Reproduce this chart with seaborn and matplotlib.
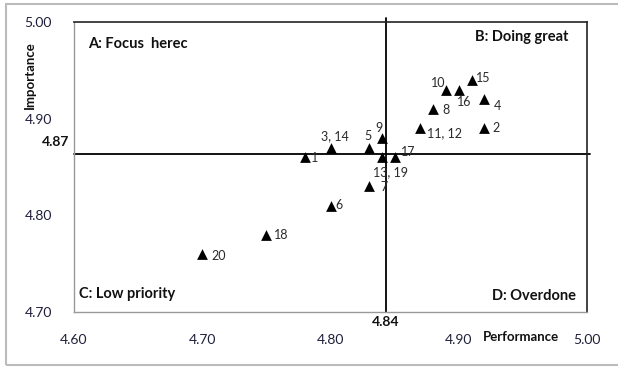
import matplotlib
matplotlib.use("Agg")
import matplotlib.pyplot as plt
import seaborn as sns
import pandas as pd
from matplotlib.patches import Rectangle

labels = ["1", "3, 14", "5", "9", "13, 19", "17", "7", "6", "18", "20",
          "11, 12", "8", "10", "16", "15", "4", "2"]
performance = [4.78, 4.80, 4.83, 4.84, 4.84, 4.85, 4.83, 4.80, 4.75, 4.70,
               4.87, 4.88, 4.89, 4.90, 4.91, 4.92, 4.92]
importance = [4.86, 4.87, 4.87, 4.88, 4.86, 4.86, 4.83, 4.81, 4.78, 4.76,
              4.89, 4.91, 4.93, 4.93, 4.94, 4.92, 4.89]
# label offsets in pixels (dx, dy)
offsets = [(10, -1), (4, 12), (-1, 12), (-3, 10), (9, -15), (14, 5), (15, -1),
           (8, 1), (15, 0), (16, -2), (24, -5), (13, -1), (-8, 7), (5, -12),
           (12, 2), (13, -7), (12, 0)]
xticks = [4.60, 4.70, 4.80, 4.90, 5.00]
yticks = [4.70, 4.80, 4.90, 5.00]
mean_perf = 4.843
mean_imp = 4.8635

df = pd.DataFrame({"Performance": performance, "Importance": importance, "label": labels})

sns.set_style("white")
plt.rcParams["font.family"] = ["Lato", "DejaVu Sans"]

W, H = 618, 367
fig = plt.figure(figsize=(W / 100, H / 100), dpi=100)
ax = fig.add_axes([74 / W, 1 - 312 / H, (587 - 74) / W, (312 - 22) / H])

sns.scatterplot(data=df, x="Performance", y="Importance", marker="^", s=60,
                color="black", edgecolor="black", linewidth=0, ax=ax, legend=False)

ax.set_xlim(4.60, 5.00)
ax.set_ylim(4.70, 5.00)
ax.set_xticks(xticks)
ax.set_yticks(yticks)
ax.set_xticklabels([f"{v:.2f}" for v in xticks])
ax.set_yticklabels([f"{v:.2f}" for v in yticks])
ax.set_xlabel("")
ax.set_ylabel("")
ax.tick_params(axis="x", direction="out", length=4, width=1, color="#999999",
               pad=12, labelsize=10, labelcolor="#1f1f3a")
ax.tick_params(axis="y", direction="out", length=4, width=1, color="#999999",
               pad=12, labelsize=10, labelcolor="#1f1f3a")
for s in ["left", "bottom"]:
    ax.spines[s].set_color("#999999")
    ax.spines[s].set_linewidth(1)
for s in ["top", "right"]:
    ax.spines[s].set_color("#222222")
    ax.spines[s].set_linewidth(1.2)

ax.axvline(mean_perf, color="black", lw=1.3, zorder=1, ymax=1.015, clip_on=False)
ax.axhline(mean_imp, color="black", lw=1.3, zorder=1, xmax=1.006, clip_on=False)

for x, y, t, (dx, dy) in zip(performance, importance, labels, offsets):
    ax.annotate(t, (x, y), xytext=(dx, dy), textcoords="offset pixels",
                ha="center", va="center", fontsize=9, color="#2a2a2a")

qkw = dict(transform=ax.transAxes, fontsize=10.5, fontweight="bold", color="#111111")
ax.text((88 - 74) / 513, 1 - (44 - 22) / 290, "A: Focus  herec", ha="left", va="center", **qkw)
ax.text((568 - 74) / 513, 1 - (37 - 22) / 290, "B: Doing great", ha="right", va="center", **qkw)
ax.text((79 - 74) / 513, 1 - (294 - 22) / 290, "C: Low priority", ha="left", va="center", **qkw)
ax.text((576 - 74) / 513, 1 - (296 - 22) / 290, "D: Overdone", ha="right", va="center", **qkw)

fig.text(386 / W, 1 - 322 / H, "4.84", ha="center", va="center",
         fontsize=10, fontweight="bold", color="#111111")
fig.text(69 / W, 1 - 142 / H, "4.87", ha="right", va="center",
         fontsize=10, fontweight="bold", color="#111111")
fig.text(521 / W, 1 - 337 / H, "Performance", ha="center", va="center",
         fontsize=9.5, fontweight="bold", color="#111111")
fig.text(30 / W, 1 - 75 / H, "Importance", ha="center", va="center", rotation=90,
         fontsize=9.5, fontweight="bold", color="#111111")

fig.patches.append(Rectangle((6 / W, 1 - 365 / H), (640 - 6) / W, (365 - 4) / H,
                             transform=fig.transFigure, fill=False,
                             edgecolor="#bbbbbb", lw=1.5, zorder=0))

fig.savefig("out.png", dpi=100)
